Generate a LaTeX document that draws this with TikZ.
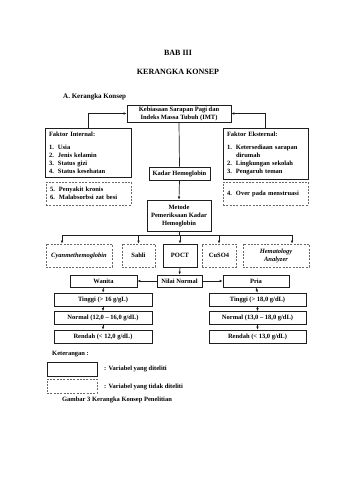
\documentclass[tikz,border=0pt]{standalone}
\usepackage{fontspec}
\setmainfont{Liberation Serif}
\usetikzlibrary{arrows.meta}
\definecolor{c1}{RGB}{30,30,30}
\definecolor{c2}{RGB}{105,105,105}
\tikzset{
  box/.style={draw=c1,line width=0.7pt,inner sep=1pt,align=center,font=\fontsize{6.5}{8}\selectfont\bfseries},
  dbox/.style={box,draw=c2,dash pattern=on 2pt off 1.3pt},
  lbox/.style={align=left,text width=#1,inner xsep=4pt},
  txt/.style={inner sep=0pt,font=\fontsize{6.5}{8}\selectfont\bfseries},
  arr/.style={-{Latex[length=3pt,width=2.6pt]},line width=0.7pt,draw=c1},
  ln/.style={line width=0.7pt,draw=c1}
}
\newcommand{\itm}[1]{\makebox[9pt][l]{#1}}

\begin{document}
\begin{tikzpicture}[x=1pt,y=-1pt]
    \useasboundingbox (0,0) rectangle (339,480);
    % headings
    \node[txt,font=\fontsize{8}{10}\selectfont\bfseries] (bab) at (178,53) {BAB III};
    \node[txt,font=\fontsize{8}{10}\selectfont\bfseries] (judul) at (178,72) {KERANGKA KONSEP};
    \node[txt,font=\fontsize{7}{9}\selectfont\bfseries,anchor=west] (sub) at (63,97) {A. Kerangka Konsep};
    % upper part
    \node[box,minimum width=104pt,minimum height=17pt] (imt) at (179,113.5) {Kebiasaan Sarapan Pagi dan\\Indeks Massa Tubuh (IMT)};
    \node[box,lbox=78pt,minimum height=49pt] (intern) at (88,152.5) {Faktor Internal:\\[5pt]\itm{1.}Usia\\\itm{2.}Jenis kelamin\\\itm{3.}Status gizi\\\itm{4.}Status kesehatan};
    \node[dbox,lbox=77pt,minimum height=23pt] (internd) at (88.5,193.5) {\itm{5.}Penyakit kronis\\\itm{6.}Malabsorbsi zat besi};
    \node[box,lbox=77pt,minimum height=51pt] (ekstern) at (265.5,153.5) {Faktor Eksternal:\\[5pt]\itm{1.}Ketersediaan sarapan\\\itm{}dirumah\\\itm{2.}Lingkungan sekolah\\\itm{3.}Pengaruh teman};
    \node[dbox,lbox=77pt,minimum height=23pt] (eksternd) at (265.5,193.5) {\itm{4.}Over pada menstruasi\\[7pt]};
    \node[box,minimum width=61pt,minimum height=13pt] (kadar) at (179.5,173.5) {Kadar Hemoglobin};
    \node[box,minimum width=64pt,minimum height=31pt] (metode) at (179,215.5) {Metode\\Pemeriksaan Kadar\\Hemoglobin};
    % methods
    \node[dbox,minimum width=66pt,minimum height=23pt] (cyan) at (79,255.5) {\itshape Cyanmethemoglobin};
    \node[dbox,minimum width=33pt,minimum height=23pt] (sahli) at (138.5,255.5) {Sahli};
    \node[box,minimum width=34pt,minimum height=23pt] (poct) at (180,255.5) {POCT};
    \node[dbox,minimum width=34pt,minimum height=23pt] (cuso) at (219,255.5) {CuSO4};
    \node[dbox,minimum width=66pt,minimum height=23pt] (hema) at (276,255.5) {\itshape Hematology\\\itshape Analyzer};
    % normal values
    \node[box,minimum width=45pt,minimum height=12pt] (nilai) at (179.5,281) {Nilai Normal};
    \node[box,minimum width=67pt,minimum height=12pt] (wanita) at (103.5,281) {Wanita};
    \node[box,minimum width=66pt,minimum height=12pt] (pria) at (256,281) {Pria};
    \node[box,minimum width=98pt,minimum height=13pt] (wtinggi) at (103,299.5) {Tinggi (> 16 g/gL)};
    \node[box,minimum width=98pt,minimum height=13pt] (wnormal) at (103,318) {Normal (12,0 – 16,0 g/dL)};
    \node[box,minimum width=98pt,minimum height=13pt] (wrendah) at (103,336.5) {Rendah (< 12,0 g/dL)};
    \node[box,minimum width=97pt,minimum height=13pt] (ptinggi) at (257.5,299.5) {Tinggi (> 18,0 g/dL)};
    \node[box,minimum width=97pt,minimum height=13pt] (pnormal) at (257.5,318) {Normal (13,0 – 18,0 g/dL)};
    \node[box,minimum width=97pt,minimum height=13pt] (prendah) at (257.5,336.5) {Rendah (< 13,0 g/dL)};
    % connectors
    \draw[arr] (intern.north) |- (imt.west);
    \draw[arr] (ekstern.north) |- (imt.east);
    \draw[ln] (imt.south) -- (kadar.north);
    \draw[arr] (kadar.south) -- (metode.north);
    \coordinate (b1) at (62,235);
    \coordinate (b5) at (292,235);
    \draw[ln] (metode.south) -- (metode.south |- b1);
    \draw[ln] (b1) -- (b5);
    \draw[arr] (b1) -- (b1 |- cyan.north);
    \foreach \m in {sahli,poct,cuso}
        \draw[arr] (\m.north |- b1) -- (\m.north);
    \draw[arr] (b5) -- (b5 |- hema.north);
    \draw[arr] (poct.south) -- (nilai.north);
    \draw[arr] (nilai.west) -- (wanita.east);
    \draw[arr] (nilai.east) -- (pria.west);
    \draw[arr] (wanita.south) -- (wtinggi.north);
    \draw[arr] (wtinggi.south) -- (wnormal.north);
    \draw[arr] (wnormal.south) -- (wrendah.north);
    \draw[arr] (pria.south) -- (ptinggi.north);
    \draw[arr] (ptinggi.south) -- (pnormal.north);
    \draw[arr] (pnormal.south) -- (prendah.north);
    % legend
    \node[txt,anchor=west] (ket) at (52,354) {Keterangan :};
    \node[box,minimum width=50pt,minimum height=14pt] (legs) at (72,369) {};
    \node[dbox,minimum width=50pt,minimum height=14pt] (legd) at (72,386) {};
    \node[txt,anchor=west] (legst) at (104,369) {: Variabel yang diteliti};
    \node[txt,anchor=west] (legdt) at (104,387) {: Variabel yang tidak diteliti};
    \node[txt] (caption) at (117,400) {Gambar 3 Kerangka Konsep Penelitian};
\end{tikzpicture}
\end{document}
